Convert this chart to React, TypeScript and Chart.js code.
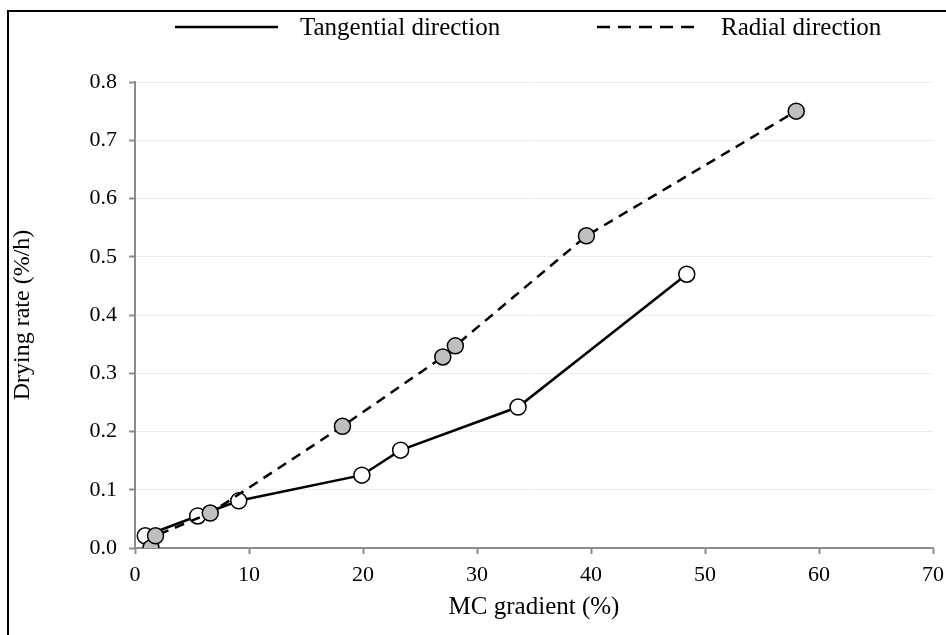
import React, { useEffect, useRef } from "react";
import { Chart, registerables } from "chart.js";

Chart.register(...registerables);

const tangentialX = [0.9, 5.5, 9.1, 19.9, 23.3, 33.6, 48.4];
const tangentialY = [0.021, 0.055, 0.081, 0.125, 0.168, 0.242, 0.47];
const radialX = [1.4, 1.8, 6.6, 18.2, 27.0, 28.1, 39.6, 58.0];
const radialY = [0.0, 0.021, 0.06, 0.209, 0.328, 0.347, 0.536, 0.75];
const seriesNames = ["Tangential direction", "Radial direction"];
const xTitle = "MC gradient (%)";
const yTitle = "Drying rate (%/h)";

const FONT = "'Liberation Serif', 'Times New Roman', serif";

const framePlugin = {
  id: "frame",
  afterDraw(chart: any) {
    const ctx = chart.ctx;
    ctx.save();
    // outer frame
    ctx.strokeStyle = "#000";
    ctx.lineWidth = 2;
    ctx.beginPath();
    ctx.rect(8, 11, chart.width + 20, chart.height + 20);
    ctx.stroke();
    // legend
    ctx.font = `25px ${FONT}`;
    ctx.fillStyle = "#000";
    ctx.textBaseline = "middle";
    ctx.textAlign = "left";
    const ly = 27;
    ctx.lineWidth = 2.5;
    ctx.setLineDash([]);
    ctx.beginPath();
    ctx.moveTo(175, ly);
    ctx.lineTo(278, ly);
    ctx.stroke();
    ctx.fillText(seriesNames[0], 300, ly + 1);
    ctx.setLineDash([13, 8]);
    ctx.beginPath();
    ctx.moveTo(597, ly);
    ctx.lineTo(694, ly);
    ctx.stroke();
    ctx.setLineDash([]);
    ctx.fillText(seriesNames[1], 721, ly + 1);
    ctx.restore();
  },
};

export default function App() {
  const ref = useRef<HTMLCanvasElement>(null);
  useEffect(() => {
    document.body.style.margin = "0";
    if (!ref.current) return;
    const chart = new Chart(ref.current, {
      type: "scatter",
      data: {
        datasets: [
          {
            label: seriesNames[0],
            data: tangentialX.map((x, i) => ({ x, y: tangentialY[i] })),
            showLine: true,
            borderColor: "#000",
            borderWidth: 2.5,
            pointRadius: 8,
            pointHoverRadius: 8,
            pointBackgroundColor: "#fff",
            pointBorderColor: "#000",
            pointBorderWidth: 1.5,
            order: 1,
          },
          {
            label: seriesNames[1],
            data: radialX.map((x, i) => ({ x, y: radialY[i] })),
            showLine: true,
            borderColor: "#000",
            borderWidth: 2.5,
            borderDash: [10, 7],
            pointRadius: 8,
            pointHoverRadius: 8,
            pointBackgroundColor: "#bfbfbf",
            pointBorderColor: "#000",
            pointBorderWidth: 1.5,
            order: 0,
          },
        ],
      },
      options: {
        responsive: false,
        animation: false,
        layout: { padding: { left: 0, top: 82, right: 13, bottom: 0 } },
        plugins: {
          legend: { display: false },
          tooltip: { enabled: false },
        },
        scales: {
          x: {
            type: "linear",
            min: 0,
            max: 70,
            afterFit: (s: any) => {
              s.height = 87;
              s.paddingLeft = 0;
              s.paddingRight = 0;
            },
            border: { color: "#8c8c8c", width: 2 },
            grid: {
              drawOnChartArea: false,
              tickLength: 6,
              tickColor: "#8c8c8c",
              tickWidth: 2,
            },
            ticks: {
              stepSize: 10,
              padding: 8,
              color: "#000",
              font: { family: FONT, size: 22 },
            },
            title: {
              display: true,
              text: xTitle,
              color: "#000",
              font: { family: FONT, size: 25 },
              padding: { top: 0, bottom: 13 },
            },
          },
          y: {
            type: "linear",
            min: 0,
            max: 0.8,
            afterFit: (s: any) => {
              s.width = 135;
              s.paddingTop = 0;
              s.paddingBottom = 0;
            },
            border: { color: "#8c8c8c", width: 2 },
            grid: {
              color: "#ececec",
              lineWidth: 1,
              tickLength: 6,
              tickColor: "#8c8c8c",
              tickWidth: 2,
            },
            ticks: {
              stepSize: 0.1,
              padding: 12,
              color: "#000",
              font: { family: FONT, size: 22 },
              callback: (v: any) => Number(v).toFixed(1),
            },
            title: {
              display: true,
              text: yTitle,
              color: "#000",
              font: { family: FONT, size: 24 },
              padding: { top: 8, bottom: 0 },
            },
          },
        },
      },
      plugins: [framePlugin],
    });
    return () => chart.destroy();
  }, []);
  return (
    <canvas
      ref={ref}
      width={946}
      height={635}
      style={{ display: "block" }}
    />
  );
}
